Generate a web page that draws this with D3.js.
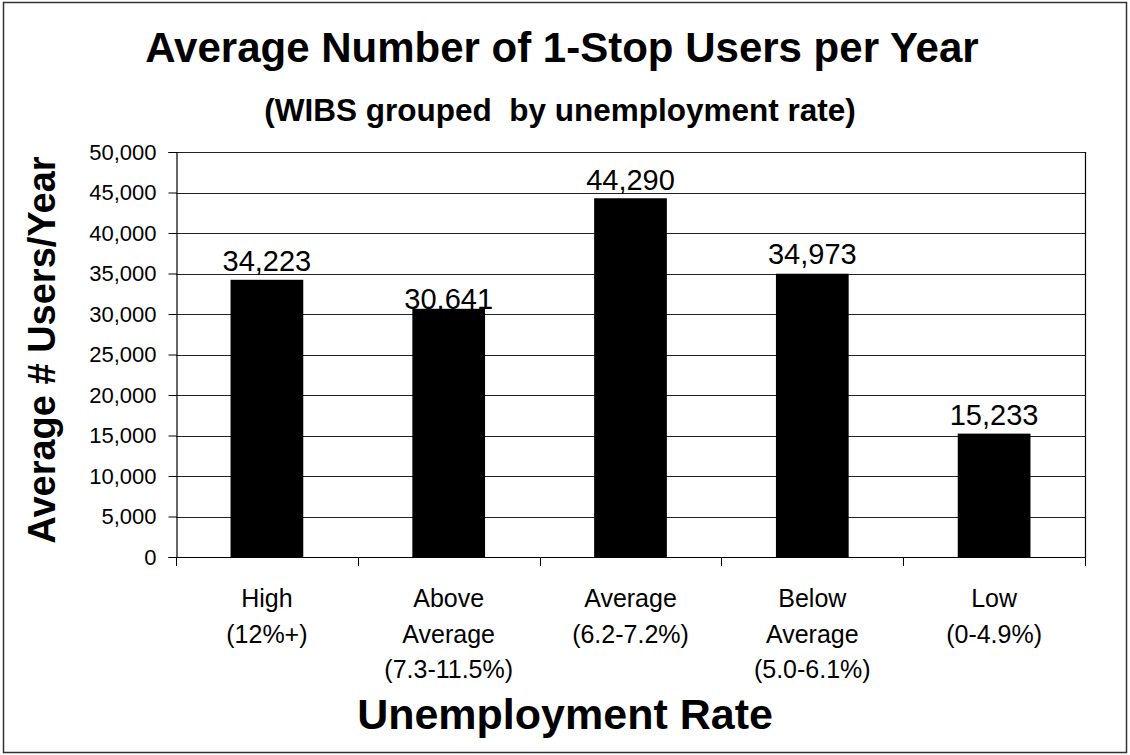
<!DOCTYPE html>
<html>
<head>
<meta charset="utf-8">
<script src="https://cdn.jsdelivr.net/npm/d3@7"></script>
<style>
  html, body { margin: 0; padding: 0; background: #fff; }
  svg { display: block; font-family: "Liberation Sans", Arial, Helvetica, sans-serif; }
</style>
</head>
<body>
<svg id="chart" width="1130" height="755"></svg>
<script>
// ---- data ----
const categories = ["High", "Above Average", "Average", "Below Average", "Low"];
const categoryLines = [
  ["High", "(12%+)"],
  ["Above", "Average", "(7.3-11.5%)"],
  ["Average", "(6.2-7.2%)"],
  ["Below", "Average", "(5.0-6.1%)"],
  ["Low", "(0-4.9%)"]
];
const values = [34223, 30641, 44290, 34973, 15233];
const yTicks = [0, 5000, 10000, 15000, 20000, 25000, 30000, 35000, 40000, 45000, 50000];
const titleText = "Average Number of 1-Stop Users per Year";
const subtitleText = "(WIBS grouped  by unemployment rate)";
const yTitleText = "Average # Users/Year";
const xTitleText = "Unemployment Rate";

// ---- layout ----
const W = 1130, H = 755;
const plot = { left: 176, right: 1085, top: 152, bottom: 557 };
const labelDy = [-9, 0, -8, -10, -9];

const svg = d3.select("#chart");

svg.append("rect")
  .attr("x", 3.5).attr("y", 2.5)
  .attr("width", W - 7).attr("height", H - 5)
  .attr("fill", "#fff").attr("stroke", "#333").attr("stroke-width", 1.5);

const x = d3.scaleBand().domain(categories).range([plot.left, plot.right]).paddingInner(0).paddingOuter(0);
const y = d3.scaleLinear().domain([0, 50000]).range([plot.bottom, plot.top]);

// gridlines
svg.append("g").selectAll("line").data(yTicks.filter(d => d > 0)).join("line")
  .attr("x1", plot.left).attr("x2", plot.right)
  .attr("y1", d => Math.round(y(d)) + 0.5).attr("y2", d => Math.round(y(d)) + 0.5)
  .attr("stroke", "#222").attr("stroke-width", 1);

// right border of plot
svg.append("line")
  .attr("x1", plot.right + 0.5).attr("x2", plot.right + 0.5)
  .attr("y1", plot.top).attr("y2", plot.bottom)
  .attr("stroke", "#000").attr("stroke-width", 1.2);

// bars
svg.append("g").selectAll("rect").data(values).join("rect")
  .attr("x", (d, i) => x(categories[i]) + x.bandwidth() * 0.3)
  .attr("width", x.bandwidth() * 0.4)
  .attr("y", d => y(d))
  .attr("height", d => y(0) - y(d))
  .attr("fill", "#000");

// y axis
const yAxis = d3.axisLeft(y).tickValues(yTicks).tickSize(8).tickPadding(12)
  .tickFormat(d3.format(","));
const gy = svg.append("g").attr("transform", `translate(${plot.left + 0.5},0)`).call(yAxis);
gy.select(".domain").attr("stroke", "#000").attr("stroke-width", 1.2);
gy.selectAll(".tick line").attr("stroke", "#000");
gy.selectAll(".tick text").attr("font-size", 22).attr("fill", "#000")
  .style("font-family", "'Liberation Sans', Arial, sans-serif");

// x axis line + boundary ticks
svg.append("line")
  .attr("x1", plot.left).attr("x2", plot.right)
  .attr("y1", plot.bottom + 0.5).attr("y2", plot.bottom + 0.5)
  .attr("stroke", "#000").attr("stroke-width", 1.2);
const bounds = categories.map(c => x(c)).concat([plot.right]);
svg.append("g").selectAll("line").data(bounds).join("line")
  .attr("x1", d => Math.round(d) + 0.5).attr("x2", d => Math.round(d) + 0.5)
  .attr("y1", plot.bottom).attr("y2", plot.bottom + 9)
  .attr("stroke", "#000");

// category labels
const cat = svg.append("g").selectAll("text").data(categoryLines).join("text")
  .attr("text-anchor", "middle")
  .attr("font-size", 25)
  .attr("fill", "#000")
  .attr("x", (d, i) => x(categories[i]) + x.bandwidth() / 2)
  .attr("y", 607);
cat.selectAll("tspan").data((d, i) => d.map(t => ({ t, i }))).join("tspan")
  .attr("x", d => x(categories[d.i]) + x.bandwidth() / 2)
  .attr("dy", (d, j) => j === 0 ? 0 : 35.5)
  .text(d => d.t);

// value labels
svg.append("g").selectAll("text").data(values).join("text")
  .attr("text-anchor", "middle")
  .attr("font-size", 29)
  .attr("fill", "#000")
  .attr("x", (d, i) => x(categories[i]) + x.bandwidth() / 2)
  .attr("y", (d, i) => y(d) + labelDy[i])
  .text(d => d3.format(",")(d));

// titles
svg.append("text").attr("x", 562).attr("y", 62).attr("text-anchor", "middle")
  .attr("font-size", 42).attr("font-weight", "bold").attr("fill", "#000")
  .text(titleText);
svg.append("text").attr("x", 560).attr("y", 121).attr("text-anchor", "middle")
  .attr("font-size", 31.5).attr("font-weight", "bold").attr("fill", "#000")
  .style("white-space", "pre")
  .text(subtitleText);
svg.append("text").attr("transform", "translate(55,350) rotate(-90)").attr("text-anchor", "middle")
  .attr("font-size", 38).attr("font-weight", "bold").attr("fill", "#000")
  .text(yTitleText);
svg.append("text").attr("x", 565).attr("y", 729).attr("text-anchor", "middle")
  .attr("font-size", 43).attr("font-weight", "bold").attr("fill", "#000")
  .text(xTitleText);
</script>
</body>
</html>
